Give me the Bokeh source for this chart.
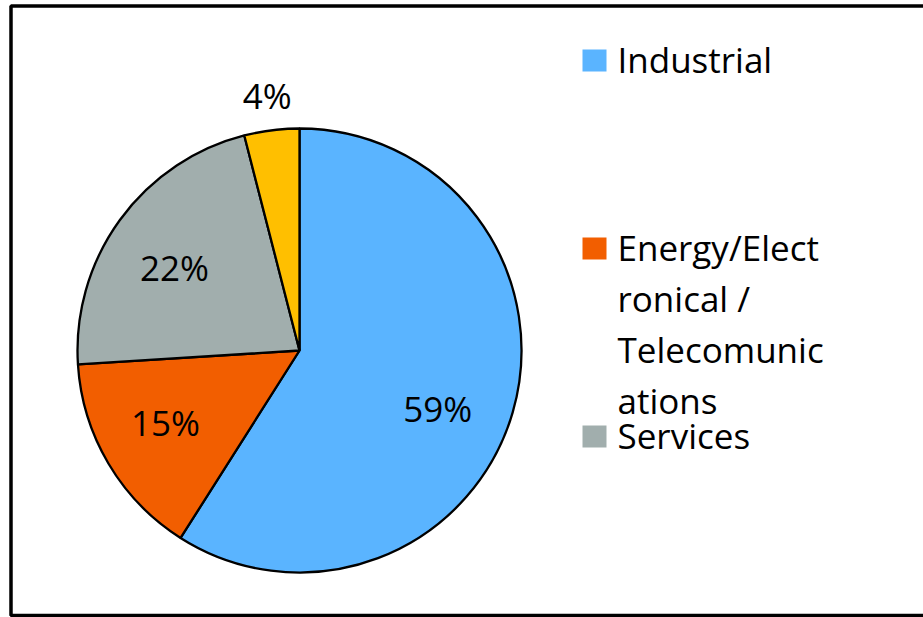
import math
from bokeh.plotting import figure
from bokeh.models import Range1d, ColumnDataSource
from bokeh.core.properties import value
from bokeh.embed import file_html
from bokeh.resources import INLINE

# ---- data ----
categories = ["Industrial", "Energy/Electronical / Telecomunications", "Services", "Other"]
shares = [59, 15, 22, 4]
legend_labels = ["Industrial", "Energy/Elect\nronical /\nTelecomunic\nations", "Services"]
colors = ["#5AB4FF", "#F25E00", "#A1AEAD", "#FFBF00"]

# ---- layout constants (pixels) ----
W, H = 923, 617
CX, CY = 299, H - 350
R = 222
LABEL_DIST = [150, 152, 150, 257]
LABEL_NUDGE_DEG = [-6.6, -2.5, 2.5, 0]
FONT = value("Open Sans")
FS = "35px"

p = figure(width=W, height=H, output_backend="svg", toolbar_location=None,
           x_range=Range1d(0, W), y_range=Range1d(0, H), min_border=0)
p.min_border_left = p.min_border_right = p.min_border_top = p.min_border_bottom = 0
p.axis.visible = False
p.grid.visible = False
p.outline_line_color = None
p.background_fill_color = "white"
p.border_fill_color = "white"

# outer frame
p.quad(left=[10.5], right=[W + 20], top=[H - 5.5], bottom=[H - 615], fill_color=None,
       line_color="black", line_width=3.5)

# wedges
total = sum(shares)
starts, ends, mids = [], [], []
cum = 0.0
for s in shares:
    a0 = math.pi / 2 - 2 * math.pi * cum / total
    cum += s
    a1 = math.pi / 2 - 2 * math.pi * cum / total
    starts.append(a0)
    ends.append(a1)
    mids.append((a0 + a1) / 2)

src = ColumnDataSource(dict(start=starts, end=ends, color=colors, cat=categories))
p.wedge(x=CX, y=CY, radius=R, start_angle="start", end_angle="end", direction="clock",
        fill_color="color", line_color="black", line_width=2.3, source=src)

# percentage labels
angs = [m + math.radians(n) for m, n in zip(mids, LABEL_NUDGE_DEG)]
lx = [CX + d * math.cos(a) for d, a in zip(LABEL_DIST, angs)]
ly = [CY + d * math.sin(a) for d, a in zip(LABEL_DIST, angs)]
p.text(x=lx, y=ly, text=[f"{s}%" for s in shares], text_font=FONT, text_font_size=FS,
       text_align="center", text_baseline="middle", text_color="black")

# manual legend
KEY_X = 594
KEY_TOPS = [49, 237, 425]
TEXT_X = 617
LINE_H = 51
BASE_OFF = 10
for lab, col, top in zip(legend_labels, colors, KEY_TOPS):
    p.rect(x=[KEY_X], y=[H - (top + 11)], width=24, height=22, fill_color=col, line_color=None)
    lines = lab.split("\n")
    ys = [H - (top + BASE_OFF + i * LINE_H) for i in range(len(lines))]
    p.text(x=[TEXT_X] * len(lines), y=ys, text=lines, text_font=FONT, text_font_size=FS,
           text_align="left", text_baseline="alphabetic", text_color="black")

open("out.html", "w").write(file_html(p, INLINE))
